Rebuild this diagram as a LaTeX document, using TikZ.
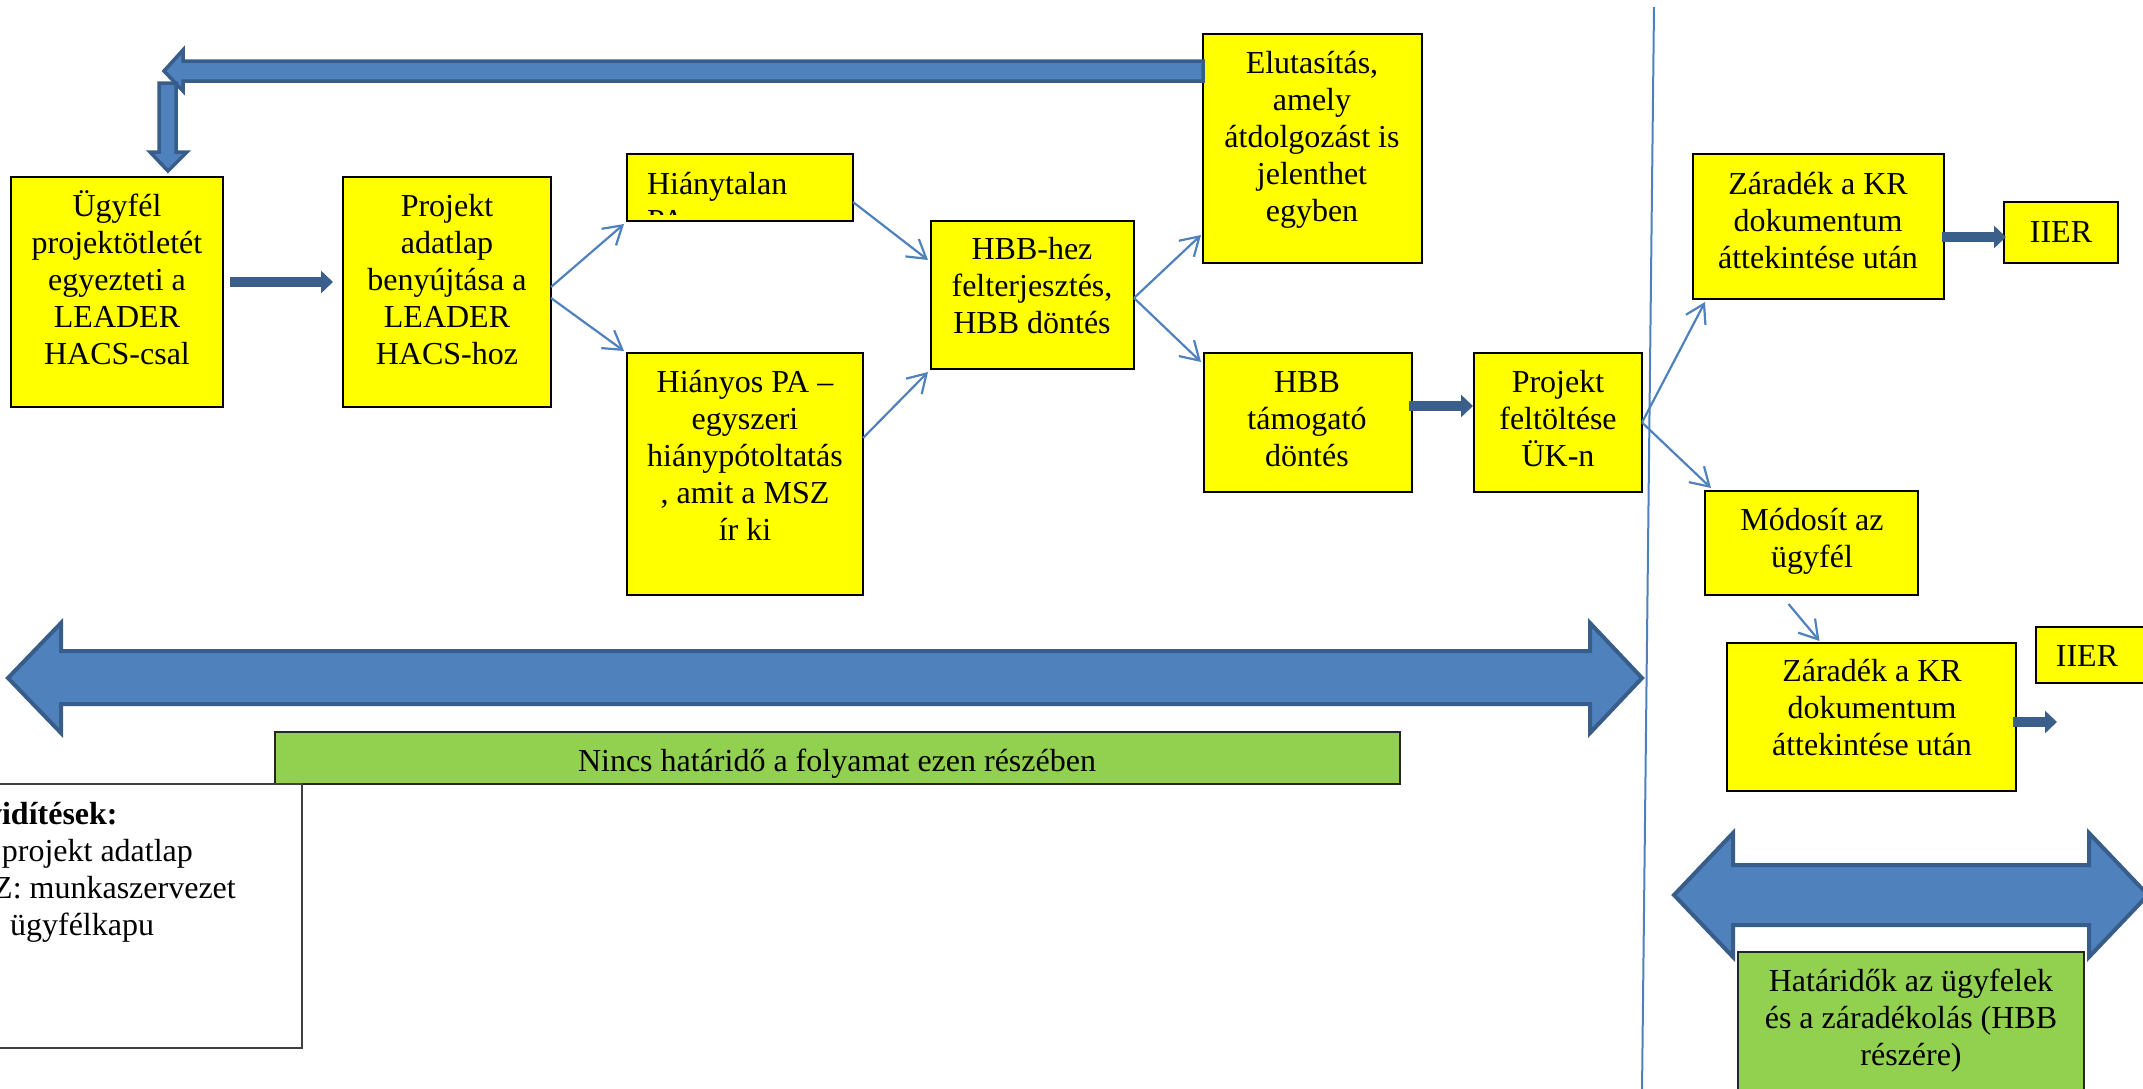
\documentclass[tikz,border=0pt]{standalone}
\usepackage{fontspec}
\setmainfont{Liberation Serif}
\usetikzlibrary{arrows.meta,calc}
\definecolor{yel}{HTML}{FFFF00}
\definecolor{grn}{HTML}{92D050}
\definecolor{bfill}{HTML}{4F81BD}
\definecolor{bline}{HTML}{385D8A}
\definecolor{darkarr}{HTML}{3A5F8B}
\newcommand\mkbox[6]{\node[#1, minimum width={(#5-#3)*0.5pt}, minimum height={(#6-#4)*0.5pt}] (#2) at ({(#3+#5)/2},{(#4+#6)/2}) {};}
\newcommand\firstln{\rule{0pt}{13pt}}
\begin{document}
\begin{tikzpicture}[x=0.5pt, y=-0.5pt,
  every node/.style={inner sep=0pt, outer sep=0pt},
  ybox/.style={draw=black, line width=1pt, fill=yel, rectangle},
  gbox/.style={draw=black!85, line width=0.8pt, fill=grn, rectangle},
  wbox/.style={draw=black!75, line width=0.8pt, fill=white, rectangle},
  txt/.style={font=\fontsize{16}{18.5}\selectfont, align=center, anchor=north, inner sep=0pt},
  flow/.style={draw=bfill, line width=1.1pt, -{Straight Barb[length=9pt,width=11pt,line width=1.1pt]}},
  fatarrow/.style={draw=darkarr, line width=5pt, -{Triangle[length=6pt,width=11pt]}},
  blk/.style={draw=bline, line width=1.75pt, fill=bfill, line join=miter}]
\useasboundingbox (0,0) rectangle (2143,1088);
\clip (0,0) rectangle (2143,1088);

% separator line
\coordinate (vt) at (1654,7);
\coordinate (vb) at (1642,1092);
\draw[bfill, line width=1pt] (vt) -- (vb);

% big double arrows
\draw[blk, line width=2pt] (8,678) -- (61,623) -- (61,651) -- (1590,651) -- (1590,623) -- (1642,678) -- (1590,733) -- (1590,704) -- (61,704) -- (61,733) -- cycle;
\draw[blk, line width=2pt] (1674,895) -- (1733,833) -- (1733,865) -- (2089,865) -- (2089,833) -- (2148,895) -- (2089,957) -- (2089,925) -- (1733,925) -- (1733,957) -- cycle;

% boxes
\mkbox{ybox}{u}{11}{177}{223}{407}
\mkbox{ybox}{pa}{343}{177}{551}{407}
\mkbox{ybox}{hl}{627}{154}{853}{221}
\mkbox{ybox}{hs}{627}{353}{863}{595}
\mkbox{ybox}{hb}{931}{221}{1134}{369}
\mkbox{ybox}{el}{1203}{34}{1422}{263}
\mkbox{ybox}{ht}{1204}{353}{1412}{492}
\mkbox{ybox}{pf}{1474}{353}{1642}{492}
\mkbox{ybox}{z1}{1693}{154}{1944}{299}
\mkbox{ybox}{i1}{2004}{202}{2118}{263}
\mkbox{ybox}{md}{1705}{491}{1918}{595}
\mkbox{ybox}{z2}{1727}{643}{2016}{791}
\mkbox{ybox}{i2}{2036}{627}{2150}{683}
\mkbox{gbox}{g1}{275}{732}{1400}{784}
\mkbox{gbox}{g2}{1738}{952}{2084}{1110}
\mkbox{wbox}{lg}{-80}{784}{302}{1048}

% texts
\node[txt] (ut) at (117,190) {\firstln Ügyfél\\projektötletét\\egyezteti a\\LEADER\\HACS-csal};
\node[txt] (pat) at (447,190) {\firstln Projekt\\adatlap\\benyújtása a\\LEADER\\HACS-hoz};
\begin{scope}
\clip ($(hl.north west)+(1,1)$) rectangle (852,214);
\node[txt, align=left, anchor=north west] (hlt) at (647,168) {\firstln Hiánytalan\\PA};
\end{scope}
\node[txt] (hst) at (745,366) {\firstln Hiányos PA –\\egyszeri\\hiánypótoltatás\\, amit a MSZ\\ír ki};
\node[txt] (hbt) at (1032,233) {\firstln HBB-hez\\felterjesztés,\\HBB döntés};
\node[txt] (elt) at (1312,47) {\firstln Elutasítás,\\amely\\átdolgozást is\\jelenthet\\egyben};
\node[txt] (htt) at (1307,366) {\firstln HBB\\támogató\\döntés};
\node[txt] (pft) at (1558,366) {\firstln Projekt\\feltöltése\\ÜK-n};
\node[txt] (z1t) at (1818,168) {\firstln Záradék a KR\\dokumentum\\áttekintése után};
\node[txt] (i1t) at (2061,216) {\firstln IIER};
\node[txt] (mdt) at (1812,504) {\firstln Módosít az\\ügyfél};
\node[txt] (z2t) at (1872,655) {\firstln Záradék a KR\\dokumentum\\áttekintése után};
\node[txt] (i2t) at (2087,640) {\firstln IIER};
\node[txt] (g1t) at (837,745) {\firstln Nincs határidő a folyamat ezen részében};
\node[txt] (g2t) at (1911,965) {\firstln Határidők az ügyfelek\\és a záradékolás (HBB\\részére)};
\node[txt, align=left, anchor=north west] (lgt) at (-53,798) {\firstln\textbf{Rövidítések:}\\PA: projekt adatlap\\MSZ: munkaszervezet\\ÜK: ügyfélkapu};

% return (bent) arrow from Elutasítás to Ügyfél
\coordinate (r1) at (0,61);
\coordinate (r2) at (0,81);
\draw[blk] (el.west |- r1) -- (183,61) -- (183,50) -- (164,71) -- (183,91) -- (183,81) -- (el.west |- r2) -- cycle;
\draw[blk] (159,83) -- (176,83) -- (176,152) -- (187,152) -- (168,171) -- (150,152) -- (159,152) -- cycle;

% thin flow arrows
\draw[flow] ($(pa.east)+(0,-5)$) -- ($(hl.south west)+(-3,3)$);
\draw[flow] ($(pa.east)+(0,6)$) -- ($(hs.north west)+(-3,-2)$);
\draw[flow] ($(hl.east)+(0,14.5)$) -- ($(hb.west)+(-3,-35)$);
\draw[flow] ($(hs.east)+(0,-36)$) -- ($(hb.south west)+(-3,3)$);
\draw[flow] ($(hb.east)+(0,3)$) -- ($(el.south west)+(-2,-28)$);
\draw[flow] ($(hb.east)+(0,3)$) -- ($(ht.north west)+(-3,9)$);
\draw[flow] (pf.east) -- ($(z1.south west)+(12,3)$);
\draw[flow] (pf.east) -- ($(md.north west)+(6,-3)$);
\draw[flow] ($(md.south)+(-23,9)$) -- ($(z2.north)+(-52,-2)$);

% thick dark arrows
\draw[fatarrow] ($(u.east)+(7,-10)$) -- ($(pa.west)+(-10,-10)$);
\draw[fatarrow] ($(ht.east)+(-3,-16.5)$) -- ($(pf.west)+(-1,-16.5)$);
\draw[fatarrow] ($(z1.east)+(-2,10.5)$) -- ($(i1.west)+(2,4.5)$);
\coordinate (z2end) at (2057,722);
\draw[fatarrow] ($(z2.east)+(-3,5)$) -- (z2end);
\end{tikzpicture}
\end{document}
